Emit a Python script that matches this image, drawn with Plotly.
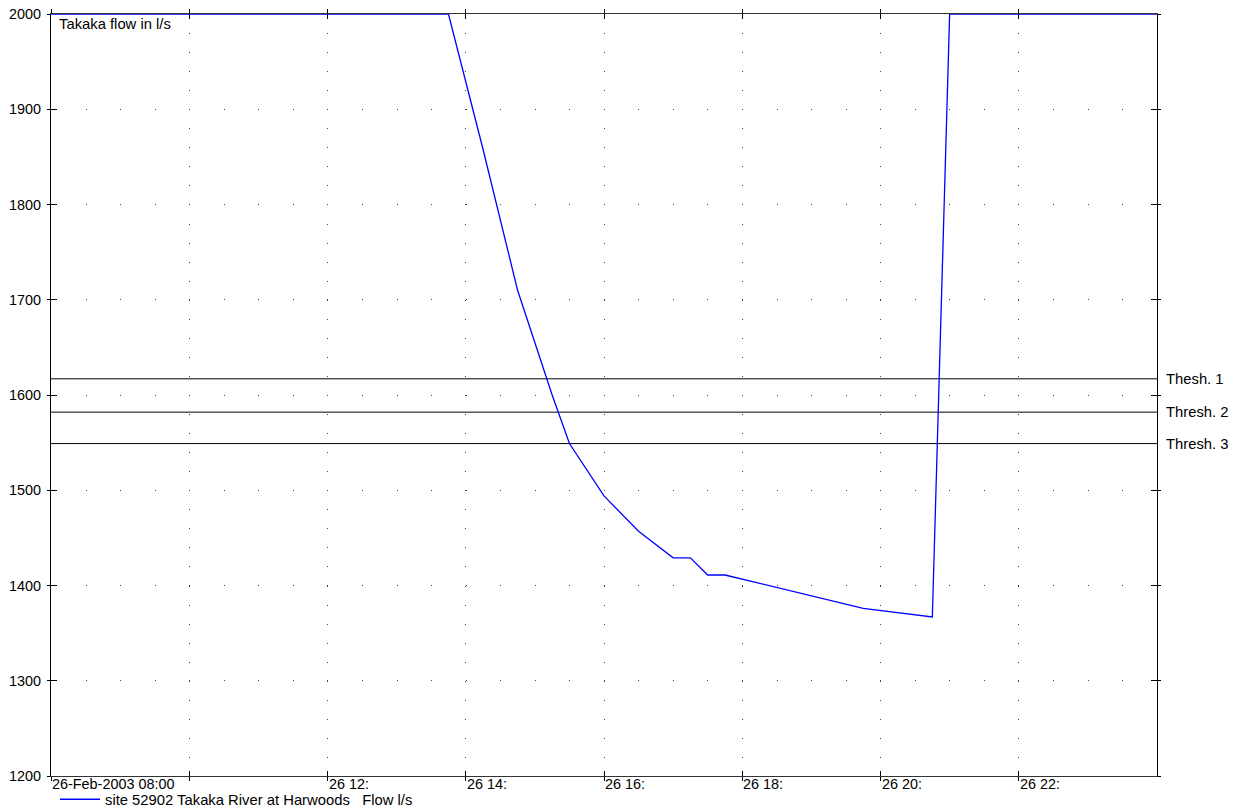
import plotly.graph_objects as go

# ---- data ----
times = [
    "2003-02-26 08:00", "2003-02-26 13:45", "2003-02-26 14:15", "2003-02-26 14:45",
    "2003-02-26 15:15", "2003-02-26 15:30", "2003-02-26 16:00", "2003-02-26 16:30",
    "2003-02-26 17:00", "2003-02-26 17:15", "2003-02-26 17:30", "2003-02-26 17:45",
    "2003-02-26 19:45", "2003-02-26 20:45", "2003-02-26 21:00", "2003-02-27 00:00",
]
flow = [2000, 2000, 1858, 1710, 1600, 1549, 1494, 1457, 1429, 1429, 1411, 1411,
        1376, 1367, 2000, 2000]

thresh_values = [1617, 1582, 1549]
thresh_labels = ["Thesh. 1", "Thresh. 2", "Thresh. 3"]

xtick_vals = ["2003-02-26 08:00", "2003-02-26 10:00", "2003-02-26 12:00", "2003-02-26 14:00",
              "2003-02-26 16:00", "2003-02-26 18:00", "2003-02-26 20:00", "2003-02-26 22:00"]
xtick_text = ["26-Feb-2003 08:00", "", "26 12:", "26 14:", "26 16:", "26 18:", "26 20:", "26 22:"]
ytick_vals = [1200, 1300, 1400, 1500, 1600, 1700, 1800, 1900, 2000]

x_range = ["2003-02-26 08:00", "2003-02-27 00:00"]
y_range = [1200, 2000]

FONT = "Arial, Liberation Sans, sans-serif"
FS_TICK = 14.4
FS_TEXT = 14.8

fig = go.Figure()
# data trace drawn on the overlay axes so it sits above the frame lines
fig.add_trace(go.Scatter(
    x=times, y=flow, mode="lines", xaxis="x2", yaxis="y2",
    line=dict(color="#0000ff", width=1.3),
    name="site 52902 Takaka River at Harwoods\u00a0\u00a0\u00a0Flow l/s",
    cliponaxis=False,
))

shapes = []
annotations = []
for v, lab in zip(thresh_values, thresh_labels):
    shapes.append(dict(type="line", xref="paper", x0=0, x1=1, yref="y", y0=v, y1=v,
                       line=dict(color="black", width=1), layer="below"))
    annotations.append(dict(xref="paper", x=1, xshift=7, yref="y", y=v, text=lab,
                            showarrow=False, xanchor="left", yanchor="middle",
                            font=dict(family=FONT, size=FS_TEXT, color="black")))

for tv, tt in zip(xtick_vals, xtick_text):
    if tt:
        annotations.append(dict(xref="x", x=tv, yref="paper", y=0, yshift=2, text=tt,
                                showarrow=False, xanchor="left", yanchor="top", xshift=-1,
                                font=dict(family=FONT, size=FS_TICK, color="black")))

annotations.append(dict(xref="paper", x=0, xshift=6, yref="paper", y=1, yshift=0,
                        text="Takaka flow in l/s", showarrow=False, xanchor="left",
                        yanchor="top", font=dict(family=FONT, size=FS_TEXT, color="black")))

fig.update_layout(
    width=1240, height=811,
    margin=dict(l=51, r=83, t=14, b=35, autoexpand=False),
    paper_bgcolor="white", plot_bgcolor="white",
    font=dict(family=FONT, size=FS_TICK, color="black"),
    showlegend=True,
    legend=dict(orientation="h", x=0.0036, xanchor="left", y=-0.031, yanchor="middle",
                itemwidth=40,
                font=dict(family=FONT, size=FS_TEXT, color="black"),
                bgcolor="rgba(0,0,0,0)", borderwidth=0),
    shapes=shapes,
    annotations=annotations,
    xaxis=dict(
        type="date", range=x_range, tickvals=xtick_vals, showticklabels=False,
        ticks="outside", ticklen=4, tickcolor="black", tickwidth=1,
        showline=True, linecolor="#333", linewidth=1, mirror="ticks",
        showgrid=True, gridcolor="#444", gridwidth=1, griddash="1px,18.05px",
        zeroline=False, automargin=False, layer="below traces",
    ),
    xaxis2=dict(
        type="date", overlaying="x", matches="x", anchor="y2", range=x_range,
        tickvals=xtick_vals, showticklabels=False,
        ticks="inside", ticklen=5, tickcolor="black", tickwidth=1, mirror="ticks",
        showline=False, showgrid=False, zeroline=False, automargin=False,
    ),
    yaxis=dict(
        range=y_range, tickvals=ytick_vals, ticks="outside", ticklen=3,
        tickcolor="black", tickwidth=1, ticklabelstandoff=3,
        showline=True, linecolor="black", linewidth=1, mirror="ticks",
        showgrid=True, gridcolor="#444", gridwidth=1, griddash="1px,33.55px",
        zeroline=False, tickfont=dict(family=FONT, size=FS_TICK, color="black"),
        automargin=False, layer="below traces",
    ),
    yaxis2=dict(
        range=y_range, overlaying="y", matches="y", anchor="x2", tickvals=ytick_vals,
        ticks="inside", ticklen=6, tickcolor="black", tickwidth=1, mirror="ticks",
        showticklabels=False, showline=False, showgrid=False, zeroline=False,
        automargin=False,
    ),
)

fig.write_html("out.html", config={"displayModeBar": False},
               post_script="document.body.style.margin='0px';")
